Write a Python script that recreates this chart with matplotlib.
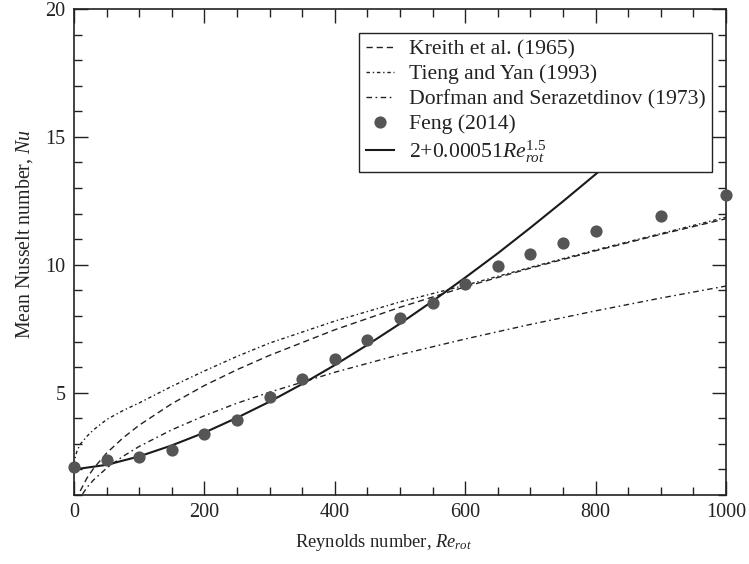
import matplotlib
matplotlib.use("Agg")
import matplotlib.pyplot as plt
from matplotlib.ticker import MultipleLocator

plt.rcParams['font.family'] = ['Liberation Serif', 'DejaVu Serif']
plt.rcParams['mathtext.fontset'] = 'custom'
plt.rcParams['mathtext.rm'] = 'Liberation Serif'
plt.rcParams['mathtext.it'] = 'Liberation Serif:italic'
plt.rcParams['text.color'] = '#222222'
plt.rcParams['axes.labelcolor'] = '#222222'
plt.rcParams['xtick.color'] = '#222222'
plt.rcParams['ytick.color'] = '#222222'

# Correlation curves
re_corr = [0, 2, 5, 10, 20, 30, 50, 75, 100, 150, 200, 250, 300, 400, 500, 600, 700, 800, 900, 1000]
nu_kreith = [0.0, 0.53, 0.83, 1.18, 1.67, 2.04, 2.64, 3.23, 3.73, 4.57, 5.28, 5.90, 6.46, 7.46, 8.34, 9.14, 9.87, 10.55, 11.19, 11.80]
nu_tieng = [2.2, 2.5, 2.75, 3.0, 3.3, 3.55, 3.95, 4.3, 4.6, 5.25, 5.85, 6.42, 6.94, 7.8, 8.55, 9.2, 9.9, 10.58, 11.22, 11.86]
nu_dorfman = [0.0, 0.41, 0.65, 0.92, 1.30, 1.59, 2.05, 2.51, 2.90, 3.55, 4.10, 4.59, 5.02, 5.80, 6.49, 7.10, 7.67, 8.20, 8.70, 9.17]

# Feng (2014) data points
re_feng = [0, 50, 100, 150, 200, 250, 300, 350, 400, 450, 500, 550, 600, 650, 700, 750, 800, 900, 1000]
nu_feng = [2.10, 2.37, 2.49, 2.75, 3.39, 3.95, 4.82, 5.53, 6.32, 7.06, 7.92, 8.52, 9.25, 9.97, 10.42, 10.85, 11.31, 11.90, 12.73]

# Fit curve 2+0.00051 Re^1.5
re_fit = [0, 50, 100, 150, 200, 250, 300, 350, 400, 450, 500, 550, 600, 650, 700, 750, 800, 850, 900, 950]
nu_fit = [2.00, 2.18, 2.51, 2.94, 3.44, 4.02, 4.65, 5.34, 6.08, 6.87, 7.70, 8.58, 9.50, 10.45, 11.45, 12.48, 13.54, 14.64, 15.77, 16.93]

fig = plt.figure(figsize=(7.49, 5.64), dpi=100)
ax = fig.add_axes([0.0988, 0.1223, 0.8705, 0.8617])

lw = 1.0
ax.plot(re_corr, nu_kreith, color='#222222', lw=lw, dashes=(4.5, 2.8), label='Kreith et al. (1965)')
ax.plot(re_corr, nu_tieng, color='#222222', lw=lw, dashes=(2.5, 2.0, 1.0, 2.0), label='Tieng and Yan (1993)')
ax.plot(re_corr, nu_dorfman, color='#222222', lw=lw, dashes=(4.0, 2.5, 1.2, 2.5), label='Dorfman and Serazetdinov (1973)')
ax.plot(re_feng, nu_feng, 'o', color='#555555', ms=8.8, mec='none', clip_on=False, zorder=5, label='Feng (2014)')
ax.plot(re_fit, nu_fit, color='#1a1a1a', lw=1.5, label=r'2+0.00051$Re_{rot}^{1.5}$')

ax.set_xlim(0, 1000)
ax.set_ylim(1, 20)
ax.xaxis.set_major_locator(MultipleLocator(200))
ax.xaxis.set_minor_locator(MultipleLocator(50))
ax.yaxis.set_major_locator(MultipleLocator(5))
ax.yaxis.set_minor_locator(MultipleLocator(1))
ax.tick_params(which='both', direction='in', top=True, right=True, labelsize=14.5, width=1.0)
ax.tick_params(which='major', length=10, pad=6)
ax.tick_params(which='minor', length=5.5)
for s in ax.spines.values():
    s.set_linewidth(1.2)
    s.set_color('#222222')

ax.set_xlabel(r'Reynolds number, $Re_{rot}$', fontsize=13.3)
ax.set_ylabel(r'Mean Nusselt number, $Nu$', fontsize=14.3)
ax.xaxis.set_label_coords(0.475, -0.077)
ax.yaxis.set_label_coords(-0.060, 0.538)

leg = ax.legend(loc='upper right', bbox_to_anchor=(0.979, 0.951), fontsize=15.6,
                frameon=True, fancybox=False, framealpha=1, edgecolor='#222222',
                handlelength=1.3, handletextpad=0.7, labelspacing=0.22,
                borderpad=0.3, borderaxespad=0)
leg.get_frame().set_linewidth(1.0)
leg.set_zorder(10)

fig.savefig('out.png', dpi=100)
